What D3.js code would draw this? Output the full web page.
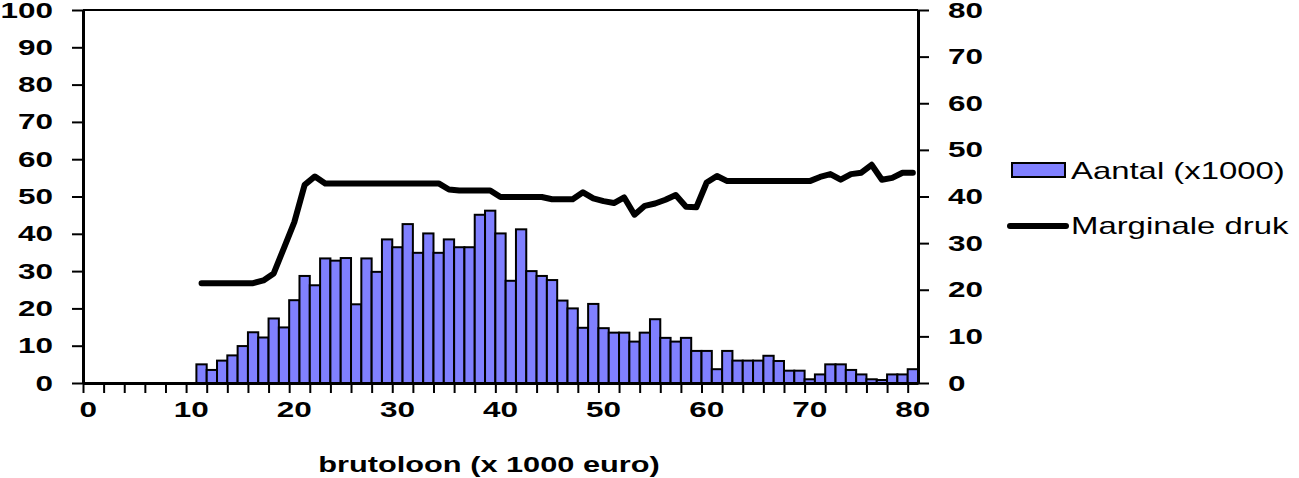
<!DOCTYPE html>
<html><head><meta charset="utf-8">
<script src="https://cdn.jsdelivr.net/npm/d3@7"></script>
<style>body{margin:0;background:#fff}svg{display:block}</style>
</head><body>
<svg id="c" width="1299" height="478"></svg>
<script>
// categories: gross wage in 1000 euro
const categories = d3.range(0, 81);
// bars: Aantal (x1000), categories 11..80
const barCats = d3.range(11, 81);
const aantal = [5.0,3.5,6.0,7.4,9.9,13.6,12.2,17.3,14.9,22.2,
  28.7,26.2,33.4,32.8,33.5,21.1,33.4,29.8,38.5,36.4,
  42.6,34.9,40.1,34.9,38.5,36.4,36.4,45.1,46.2,40.1,
  27.4,41.2,30.0,28.7,27.6,22.1,20.0,14.8,21.2,14.7,
  13.5,13.5,11.1,13.5,17.1,12.1,11.1,12.1,8.6,8.6,
  3.7,8.6,6.0,6.0,6.0,7.3,5.9,3.3,3.3,1.0,
  2.3,5.0,5.0,3.5,2.3,1.0,0.8,2.3,2.3,3.7];
// line: Marginale druk (%), categories 11..80
const druk = [21.4,21.4,21.4,21.4,21.4,21.4,22.0,23.5,29.0,34.5,
  42.5,44.3,42.8,42.8,42.8,42.8,42.8,42.8,42.8,42.8,
  42.8,42.8,42.8,42.8,41.5,41.3,41.3,41.3,41.3,39.9,
  39.9,39.9,39.9,39.9,39.4,39.4,39.4,40.9,39.6,39.0,
  38.6,39.8,36.1,38.0,38.5,39.3,40.3,37.8,37.7,43.0,
  44.4,43.3,43.3,43.3,43.3,43.3,43.3,43.3,43.3,43.3,
  44.2,44.8,43.6,44.8,45.1,46.8,43.6,44.0,45.1,45.1];
const xLabels = [0,10,20,30,40,50,60,70,80];
const leftTicks = d3.range(0, 101, 10);
const rightTicks = d3.range(0, 81, 10);
const seriesNames = ["Aantal (x1000)", "Marginale druk"];

const svg = d3.select("#c");
const L = 83, R = 918, T = 10, B = 383;
const SX = 1.43; // horizontal text stretch
const x = d3.scaleBand().domain(categories).range([L, R]).padding(0);
const xLin = d3.scaleLinear().domain([0, 81]).range([L, R]);
const yL = d3.scaleLinear().domain([0, 100]).range([B, T]);
const yR = d3.scaleLinear().domain([0, 80]).range([B, T]);
const font = "'Liberation Sans', Arial, sans-serif";

function stretchText(sel, anchor) {
  sel.each(function() {
    const t = d3.select(this);
    const tx = +t.attr("x") || 0;
    t.attr("x", 0).attr("transform", `translate(${tx},0) scale(${SX},1)`).attr("text-anchor", anchor);
  });
}

// bars
svg.append("g").selectAll("rect").data(barCats.map((c, i) => ({c, v: aantal[i]})))
  .join("rect")
  .attr("x", d => x(d.c)).attr("width", x.bandwidth())
  .attr("y", d => yL(d.v)).attr("height", d => yL(0) - yL(d.v))
  .attr("fill", "#8080ff").attr("stroke", "#000").attr("stroke-width", 2);

// line
const line = d3.line().x(d => x(d.c) + x.bandwidth() / 2).y(d => yR(d.v));
svg.append("path").datum(barCats.map((c, i) => ({c, v: druk[i]})))
  .attr("d", line).attr("fill", "none").attr("stroke", "#000")
  .attr("stroke-width", 6).attr("stroke-linejoin", "round").attr("stroke-linecap", "round");

// top border
svg.append("line").attr("x1", L).attr("x2", R).attr("y1", T).attr("y2", T)
  .attr("stroke", "#000").attr("stroke-width", 2);

// left axis
const gL = svg.append("g").attr("transform", `translate(${L},0)`)
  .call(d3.axisLeft(yL).tickValues(leftTicks).tickSize(11).tickSizeOuter(0).tickPadding(30));
// right axis
const gR = svg.append("g").attr("transform", `translate(${R},0)`)
  .call(d3.axisRight(yR).tickValues(rightTicks).tickSize(11).tickSizeOuter(0).tickPadding(30));
// bottom minor ticks
const gB = svg.append("g").attr("transform", `translate(0,${B})`)
  .call(d3.axisBottom(xLin).tickValues(d3.range(0, 81, 2)).tickSize(10).tickSizeOuter(0).tickFormat(""));
// bottom labels
const gBL = svg.append("g").attr("transform", `translate(0,${B})`)
  .call(d3.axisBottom(x).tickValues(xLabels).tickSize(0).tickPadding(18));
gBL.select(".domain").remove();

[gL, gR, gB].forEach(g => {
  g.select(".domain").attr("stroke", "#000").attr("stroke-width", 3);
  g.selectAll(".tick line").attr("stroke", "#000").attr("stroke-width", 2);
});
gL.selectAll("text").attr("x", -30).call(s => stretchText(s, "end"));
gR.selectAll("text").attr("x", 30).call(s => stretchText(s, "start"));
gBL.selectAll("text").call(s => stretchText(s, "middle"));
[gL, gR, gBL].forEach(g => g.selectAll("text")
  .attr("font-family", font).attr("font-weight", "bold").attr("font-size", 22).attr("fill", "#000"));

// x title
svg.append("text").attr("transform", `translate(489,472) scale(${SX},1)`)
  .attr("text-anchor", "middle").attr("font-family", font).attr("font-weight", "bold")
  .attr("font-size", 21.5).text("brutoloon (x 1000 euro)");

// legend
const lg = svg.append("g");
lg.append("rect").attr("x", 1012).attr("y", 163).attr("width", 53).attr("height", 14)
  .attr("fill", "#8080ff").attr("stroke", "#000").attr("stroke-width", 2);
lg.append("line").attr("x1", 1010).attr("x2", 1066).attr("y1", 226).attr("y2", 226)
  .attr("stroke", "#000").attr("stroke-width", 6).attr("stroke-linecap", "round");
lg.selectAll("text.lt").data(seriesNames).join("text")
  .attr("transform", (d, i) => `translate(1071,${i === 0 ? 179 : 234}) scale(${SX},1)`)
  .attr("font-family", font).attr("font-size", 23).text(d => d);
</script>
</body></html>
